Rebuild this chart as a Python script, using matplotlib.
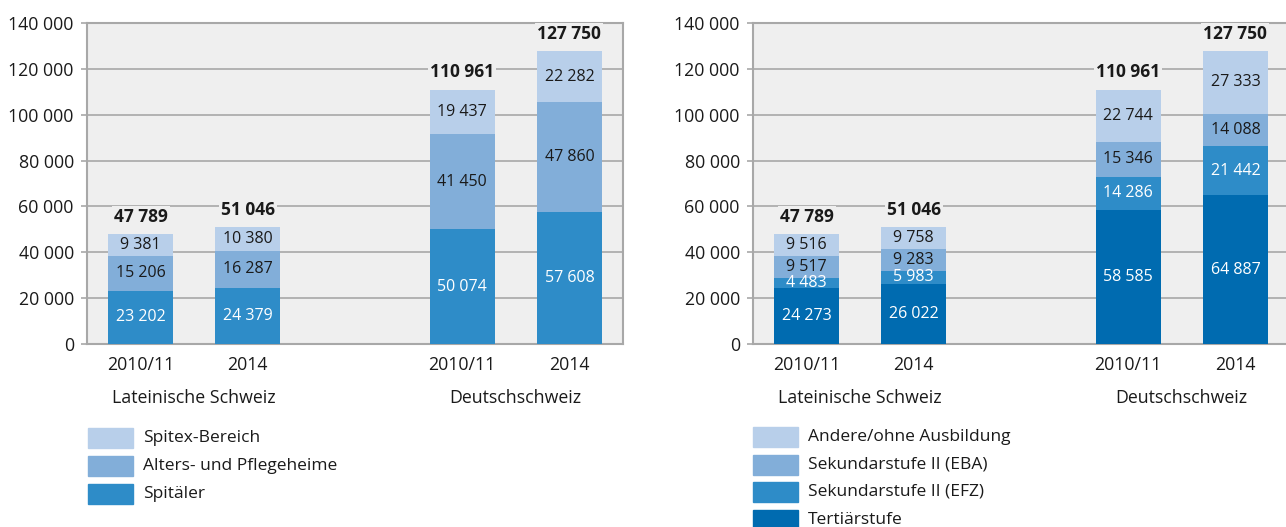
import numpy as np
import matplotlib.pyplot as plt
from matplotlib.patches import Rectangle

plt.rcParams['font.family'] = ['Open Sans', 'DejaVu Sans']

# categories
years = ["2010/11", "2014", "2010/11", "2014"]
regions = ["Lateinische Schweiz", "Deutschschweiz"]
xpos = [0, 1, 3, 4]

# left chart: by sector (bottom to top)
spitaeler = [23202, 24379, 50074, 57608]
alters = [15206, 16287, 41450, 47860]
spitex = [9381, 10380, 19437, 22282]
totals = [47789, 51046, 110961, 127750]
left_names = ["Spitäler", "Alters- und Pflegeheime", "Spitex-Bereich"]

# right chart: by education level (bottom to top)
tertiaer = [24273, 26022, 58585, 64887]
efz = [4483, 5983, 14286, 21442]
eba = [9517, 9283, 15346, 14088]
andere = [9516, 9758, 22744, 27333]
right_names = ["Tertiärstufe", "Sekundarstufe II (EFZ)", "Sekundarstufe II (EBA)",
               "Andere/ohne Ausbildung"]

yticks = np.arange(0, 140001, 20000)

c_light = "#b8cfea"
c_mid = "#82aed9"
c_blue = "#2e8cc8"
c_dark = "#006bb0"
bg = "#efefef"
grid = "#a8a8a8"
txt = "#1a1a1a"


def fmt(v):
    return f"{v:,}".replace(",", " ")


def draw(ax, series, colors, textcols):
    ax.set_facecolor(bg)
    bottom = np.zeros(len(xpos))
    for vals, col, tc in zip(series, colors, textcols):
        vals = np.array(vals)
        ax.bar(xpos, vals, bottom=bottom, width=0.61, color=col, zorder=3)
        for x, b, v in zip(xpos, bottom, vals):
            ax.text(x, b + v / 2, fmt(v), ha='center', va='center',
                    fontsize=11.5, color=tc, zorder=4)
        bottom = bottom + vals
    for x, t in zip(xpos, totals):
        ax.text(x, t + 7600, fmt(t), ha='center', va='center', fontsize=12.5,
                fontweight='bold', color=txt, zorder=4,
                bbox=dict(facecolor=bg, edgecolor='none', pad=1.5))
    ax.set_xlim(-0.5, 4.5)
    ax.set_ylim(0, 140000)
    ax.set_yticks(yticks)
    ax.set_yticklabels([fmt(v) for v in yticks], fontsize=12.8, color=txt)
    ax.set_xticks(xpos)
    ax.set_xticklabels(years, fontsize=12.8, color=txt)
    ax.tick_params(axis='y', length=4, width=1.2, color=grid, pad=5.5)
    ax.tick_params(axis='x', length=0, pad=9)
    ax.grid(axis='y', color=grid, linewidth=1.2, zorder=1)
    for s in ax.spines.values():
        s.set_color(grid)
        s.set_linewidth(1.5)
    for i, r in enumerate(regions):
        ax.text((xpos[2 * i] + xpos[2 * i + 1]) / 2, -0.168, r,
                transform=ax.get_xaxis_transform(), ha='center', va='center',
                fontsize=12.8, color=txt)


fig = plt.figure(figsize=(12.86, 5.27), dpi=100)
W, H = 1286, 527
ax1 = fig.add_axes([87 / W, (H - 344) / H, 536 / W, 321 / H])
ax2 = fig.add_axes([753 / W, (H - 344) / H, 536 / W, 321 / H])

draw(ax1, [spitaeler, alters, spitex], [c_blue, c_mid, c_light],
     ["white", txt, txt])
draw(ax2, [tertiaer, efz, eba, andere], [c_dark, c_blue, c_mid, c_light],
     ["white", "white", txt, txt])


def legend(x0, y0, names, colors, step):
    for i, (n, c) in enumerate(zip(names[::-1], colors[::-1])):
        y = y0 + i * step
        fig.add_artist(Rectangle((x0 / W, 1 - (y + 20) / H), 45 / W, 20 / H,
                                 transform=fig.transFigure, color=c))
        fig.text((x0 + 55) / W, 1 - (y + 10) / H, n, ha='left', va='center',
                 fontsize=12.5, color=txt)


legend(88, 428, left_names, [c_blue, c_mid, c_light], 28)
legend(753, 427, right_names, [c_dark, c_blue, c_mid, c_light], 27.5)

fig.savefig("out.png", dpi=100)
